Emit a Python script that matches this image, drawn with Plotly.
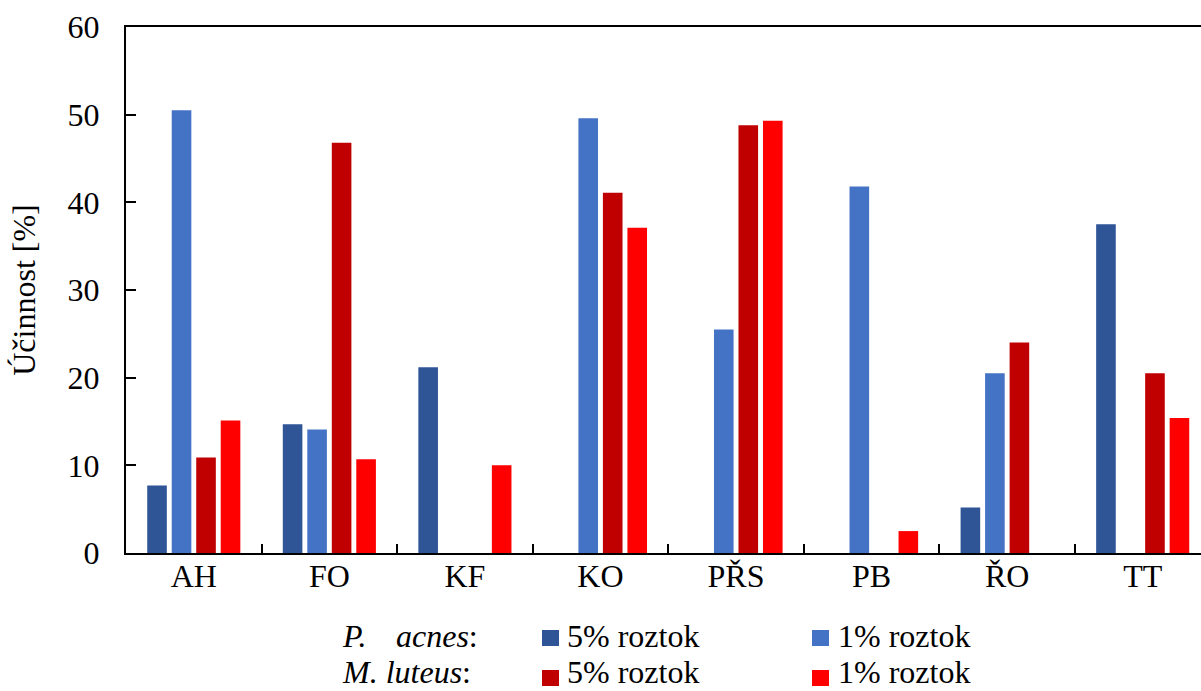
import plotly.graph_objects as go

categories = ["AH", "FO", "KF", "KO", "PŘS", "PB", "ŘO", "TT"]
pa_5 = [7.7, 14.7, 21.2, None, None, None, 5.2, 37.5]
pa_1 = [50.5, 14.1, None, 49.6, 25.5, 41.8, 20.5, None]
ml_5 = [10.9, 46.8, None, 41.1, 48.8, None, 24.0, 20.5]
ml_1 = [15.1, 10.7, 10.0, 37.1, 49.3, 2.5, None, 15.4]
y_ticks = [0, 10, 20, 30, 40, 50, 60]

colors = ["#2F5597", "#4472C4", "#C00000", "#FF0000"]
series = [pa_5, pa_1, ml_5, ml_1]
names = ["P. acnes 5% roztok", "P. acnes 1% roztok", "M. luteus 5% roztok", "M. luteus 1% roztok"]

W, H = 1201, 691
ML, MR, MT, MB = 126, 0, 27, 138
PW, PH = W - ML - MR, H - MT - MB

def px(x):
    return (x - ML) / PW

def py(y):
    return (H - MB - y) / PH

fig = go.Figure()
for vals, c, n in zip(series, colors, names):
    fig.add_trace(go.Bar(x=categories, y=vals, name=n, marker=dict(color=c, line=dict(width=0)),
                         showlegend=False))

FONT = "'Liberation Serif', 'Times New Roman', Times, serif"
FS = 32
fig.update_layout(
    width=W, height=H,
    margin=dict(l=ML, r=MR, t=MT, b=MB, autoexpand=False),
    plot_bgcolor="white", paper_bgcolor="white",
    barmode="group", bargap=0.277, bargroupgap=0.2,
    font=dict(family=FONT, size=FS, color="black"),
    showlegend=False,
)
fig.update_xaxes(
    type="category", range=[-0.5, 7.43],
    showline=True, linecolor="black", linewidth=2, mirror=True,
    ticks="inside", tickson="boundaries", ticklen=9, tickwidth=2, tickcolor="black",
    showgrid=False, ticklabelstandoff=-6, tickfont=dict(family=FONT, size=FS),
)
fig.update_yaxes(
    range=[0, 60], tickvals=y_ticks,
    showline=True, linecolor="black", linewidth=2,
    ticks="inside", ticklen=10, tickwidth=2, tickcolor="black",
    showgrid=False, zeroline=False, ticklabelstandoff=18,
    tickfont=dict(family=FONT, size=FS),
    title=dict(text="Účinnost [%]", font=dict(family=FONT, size=FS), standoff=22),
)

# custom legend
rows = [(630, 646), (670, 686)]
text_y = [636, 672]
sq_x = [(542, 559, 565), (812, 829, 836)]
for r, (y0, y1) in enumerate(rows):
    yt = text_y[r]
    for cidx, (x0, x1, xt) in enumerate(sq_x):
        col = colors[r * 2 + cidx]
        fig.add_shape(type="rect", xref="paper", yref="paper",
                      x0=px(x0), x1=px(x1), y0=py(y1), y1=py(y0),
                      fillcolor=col, line=dict(width=0))
        fig.add_annotation(xref="paper", yref="paper", x=px(xt), y=py(yt),
                           xanchor="left", yanchor="middle", showarrow=False,
                           text=("5% roztok" if cidx == 0 else "1% roztok"),
                           font=dict(family=FONT, size=FS))
fig.add_annotation(xref="paper", yref="paper", x=px(340), y=py(text_y[0]),
                   xanchor="left", yanchor="middle", showarrow=False,
                   text="<i>P.</i>", font=dict(family=FONT, size=FS))
fig.add_annotation(xref="paper", yref="paper", x=px(394), y=py(text_y[0]),
                   xanchor="left", yanchor="middle", showarrow=False,
                   text="<i>acnes</i>:", font=dict(family=FONT, size=FS))
fig.add_annotation(xref="paper", yref="paper", x=px(340), y=py(text_y[1]),
                   xanchor="left", yanchor="middle", showarrow=False,
                   text="<i>M. luteus</i>:", font=dict(family=FONT, size=FS))

fig.write_html("out.html", config={"displayModeBar": False},
               post_script="document.body.style.margin='0';document.body.style.overflow='hidden';")
